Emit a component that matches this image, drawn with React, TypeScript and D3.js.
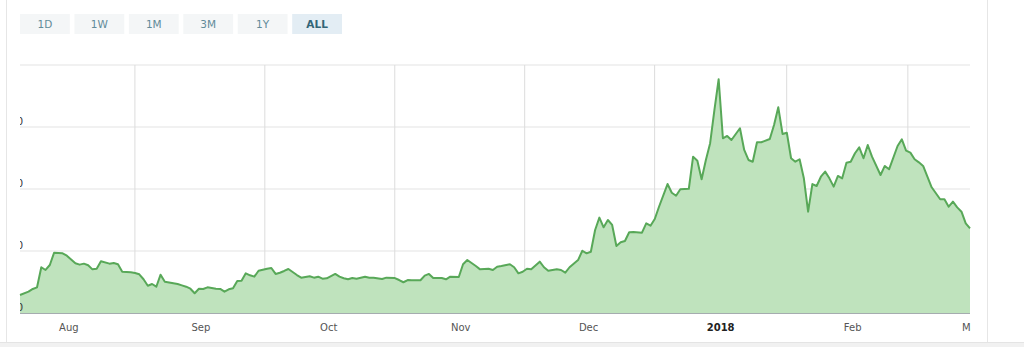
import React from "react";
import * as d3 from "d3";

const dates: string[] = [
  "2017-07-21","2017-07-23","2017-07-24","2017-07-25","2017-07-26","2017-07-27","2017-07-28","2017-07-29","2017-07-31",
  "2017-08-01","2017-08-03","2017-08-04","2017-08-05","2017-08-06","2017-08-07","2017-08-08","2017-08-09","2017-08-11",
  "2017-08-12","2017-08-13","2017-08-14","2017-08-16","2017-08-17","2017-08-18","2017-08-19","2017-08-20","2017-08-21",
  "2017-08-22","2017-08-23","2017-08-24","2017-08-26","2017-08-27","2017-08-28","2017-08-29","2017-08-30","2017-08-31",
  "2017-09-01","2017-09-02","2017-09-03","2017-09-05","2017-09-06","2017-09-07","2017-09-08","2017-09-09","2017-09-10",
  "2017-09-11","2017-09-12","2017-09-13","2017-09-14","2017-09-15","2017-09-17","2017-09-18","2017-09-19","2017-09-20",
  "2017-09-21","2017-09-22","2017-09-24","2017-09-25","2017-09-27","2017-09-28","2017-09-29","2017-09-30",
  "2017-10-01","2017-10-03","2017-10-04","2017-10-05","2017-10-06","2017-10-07","2017-10-08","2017-10-10","2017-10-11",
  "2017-10-12","2017-10-14","2017-10-15","2017-10-17","2017-10-18","2017-10-19","2017-10-20","2017-10-21","2017-10-23",
  "2017-10-24","2017-10-25","2017-10-26","2017-10-28","2017-10-29","2017-10-30",
  "2017-11-01","2017-11-02","2017-11-03","2017-11-05","2017-11-06","2017-11-08","2017-11-09","2017-11-10","2017-11-11",
  "2017-11-13","2017-11-14","2017-11-15","2017-11-16","2017-11-17","2017-11-18","2017-11-20","2017-11-21","2017-11-22",
  "2017-11-24","2017-11-25","2017-11-26","2017-11-27","2017-11-29","2017-11-30",
  "2017-12-01","2017-12-02","2017-12-03","2017-12-04","2017-12-05","2017-12-06","2017-12-07","2017-12-08","2017-12-09",
  "2017-12-10","2017-12-11","2017-12-12","2017-12-14","2017-12-15","2017-12-16","2017-12-17","2017-12-18","2017-12-20",
  "2017-12-21","2017-12-22","2017-12-23","2017-12-25","2017-12-26","2017-12-27","2017-12-28","2017-12-29","2017-12-30",
  "2017-12-31",
  "2018-01-01","2018-01-02","2018-01-03","2018-01-04","2018-01-06","2018-01-07","2018-01-08","2018-01-09","2018-01-10",
  "2018-01-11","2018-01-13","2018-01-14","2018-01-15","2018-01-16","2018-01-17","2018-01-18","2018-01-19","2018-01-20",
  "2018-01-21","2018-01-22","2018-01-23","2018-01-24","2018-01-25","2018-01-26","2018-01-27","2018-01-28","2018-01-29",
  "2018-01-30","2018-01-31",
  "2018-02-01","2018-02-02","2018-02-03","2018-02-04","2018-02-05","2018-02-06","2018-02-08","2018-02-09","2018-02-10",
  "2018-02-12","2018-02-13","2018-02-14","2018-02-15","2018-02-16","2018-02-17","2018-02-18","2018-02-19","2018-02-20",
  "2018-02-22","2018-02-23","2018-02-24","2018-02-25","2018-02-26","2018-02-27","2018-02-28","2018-03-01"
];

const prices: number[] = [
  145,172,194,207,369,347,387,486,481,
  462,401,390,398,385,352,357,417,398,
  403,393,333,328,323,312,272,220,234,
  212,309,252,240,234,223,212,196,159,
  196,194,207,196,194,172,191,199,258,
  260,320,304,293,341,357,363,315,325,
  339,355,306,285,296,285,293,277,
  280,315,293,280,272,282,277,293,285,
  285,274,285,282,266,248,266,264,264,
  301,315,282,282,272,293,
  290,393,427,379,352,357,347,373,379,
  393,369,320,333,357,352,414,369,341,
  352,347,325,369,427,502,
  481,494,669,769,691,750,710,540,570,
  581,651,653,648,723,704,758,857,1040,
  970,946,998,1002,1261,1228,1078,1234,1369,
  1637,
  1885,1409,1428,1395,1490,1315,1234,1220,1377,
  1377,1403,1516,1659,1444,1454,1248,1220,1240,
  1086,817,1040,1024,1099,1140,1086,1019,1105,
  1086,1212,
  1220,1288,1336,1248,1355,1261,1113,1186,1159,
  1347,1401,1309,1293,1240,1215,1186,1099,1014,
  917,917,857,898,852,817,723,683
];

const monthTicks: string[] = ["2017-08-01","2017-09-01","2017-10-01","2017-11-01","2017-12-01","2018-01-01","2018-02-01","2018-03-01"];
const monthLabels: string[] = ["Aug","Sep","Oct","Nov","Dec","2018","Feb","Mar"];
const yTicks: number[] = [0, 500, 1000, 1500, 2000];
const yTickLabels: string[] = ["0", "500", "1000", "1500", ""];
const rangeButtons: string[] = ["1D", "1W", "1M", "3M", "1Y", "ALL"];
const activeButton = "ALL";

const W = 1024;
const H = 347;
const left = 20;
const right = 970;
const top = 65;
const bottom = 313;

export default function App() {
  const parse = d3.timeParse("%Y-%m-%d");
  const data = dates.map((d, i) => ({ date: parse(d) as Date, value: prices[i] }));
  const x = d3
    .scaleTime()
    .domain([parse("2017-07-21") as Date, parse("2018-03-01") as Date])
    .range([left, right]);
  const y = d3.scaleLinear().domain([0, 2000]).range([bottom, top]);

  const area = d3
    .area<{ date: Date; value: number }>()
    .x((d) => x(d.date))
    .y0(y(0))
    .y1((d) => y(d.value));
  const line = d3
    .line<{ date: Date; value: number }>()
    .x((d) => x(d.date))
    .y((d) => y(d.value));

  const months = monthTicks.map((m) => parse(m) as Date);
  // vertical grid lines halfway between month starts
  const midLines: Date[] = [];
  for (let i = 0; i < months.length - 1; i++) {
    midLines.push(new Date((months[i].getTime() + months[i + 1].getTime()) / 2));
  }

  const btnX = d3.scaleBand().domain(rangeButtons).range([20, 342]).paddingInner(0.085);

  return (
    <svg
      width={W}
      height={H}
      style={{ position: "absolute", left: 0, top: 0, display: "block", background: "#fff" }}
      fontFamily="'DejaVu Sans', Verdana, sans-serif"
    >
      <defs>
        <clipPath id="ylabClip">
          <rect x={left} y={0} width={10} height={H} />
        </clipPath>
        <clipPath id="xlabClip">
          <rect x={0} y={0} width={971} height={H} />
        </clipPath>
      </defs>
      {/* frame */}
      <rect x={0} y={342} width={W} height={5} fill="#f1f1f1" />
      <line x1={0} x2={W} y1={342.5} y2={342.5} stroke="#e4e4e4" />
      <line x1={6.5} x2={6.5} y1={0} y2={342} stroke="#e6e6e6" />
      <line x1={987.5} x2={987.5} y1={0} y2={342} stroke="#e6e6e6" />

      {/* range buttons */}
      {rangeButtons.map((b) => {
        const active = b === activeButton;
        return (
          <g key={b}>
            <rect
              x={btnX(b)}
              y={14}
              width={btnX.bandwidth()}
              height={20}
              fill={active ? "#e3edf4" : "#f4f6f7"}
            />
            <text
              x={(btnX(b) as number) + btnX.bandwidth() / 2}
              y={28}
              textAnchor="middle"
              fontSize={10.5}
              fontWeight={active ? "bold" : "normal"}
              fill={active ? "#336577" : "#628b99"}
            >
              {b}
            </text>
          </g>
        );
      })}

      {/* horizontal grid */}
      {yTicks.map((t) => (
        <line key={"h" + t} x1={left} x2={right} y1={y(t)} y2={y(t)} stroke="#e3e3e3" strokeWidth={1} />
      ))}
      {/* vertical grid */}
      {midLines.map((d, i) => (
        <line
          key={"v" + i}
          x1={x(d) + (i === midLines.length - 1 ? -2.5 : 2)}
          x2={x(d) + (i === midLines.length - 1 ? -2.5 : 2)}
          y1={top}
          y2={bottom}
          stroke="#dcdcdc"
          strokeWidth={1}
        />
      ))}

      {/* series */}
      <path d={area(data) as string} fill="#bfe3bd" />
      <path d={line(data) as string} fill="none" stroke="#58a858" strokeWidth={2} strokeLinejoin="round" />

      {/* axis line */}
      <line x1={left} x2={right} y1={bottom + 0.5} y2={bottom + 0.5} stroke="#a5acaf" strokeWidth={1} />

      {/* y labels, clipped at the plot edge as in the reference */}
      <g clipPath="url(#ylabClip)">
        {yTicks.map((t, i) => (
          <text key={"yl" + t} x={23} y={y(t) - 2} textAnchor="end" fontSize={10} fill="#333">
            {yTickLabels[i]}
          </text>
        ))}
      </g>

      {/* x labels */}
      <g clipPath="url(#xlabClip)">
        {months.map((m, i) => (
          <text
            key={"xl" + i}
            x={x(m) + (i === months.length - 1 ? 1.5 : 2)}
            y={331}
            textAnchor="middle"
            fontSize={10}
            fontWeight={monthLabels[i] === "2018" ? "bold" : "normal"}
            fill={monthLabels[i] === "2018" ? "#222" : "#555"}
          >
            {monthLabels[i]}
          </text>
        ))}
      </g>
    </svg>
  );
}
